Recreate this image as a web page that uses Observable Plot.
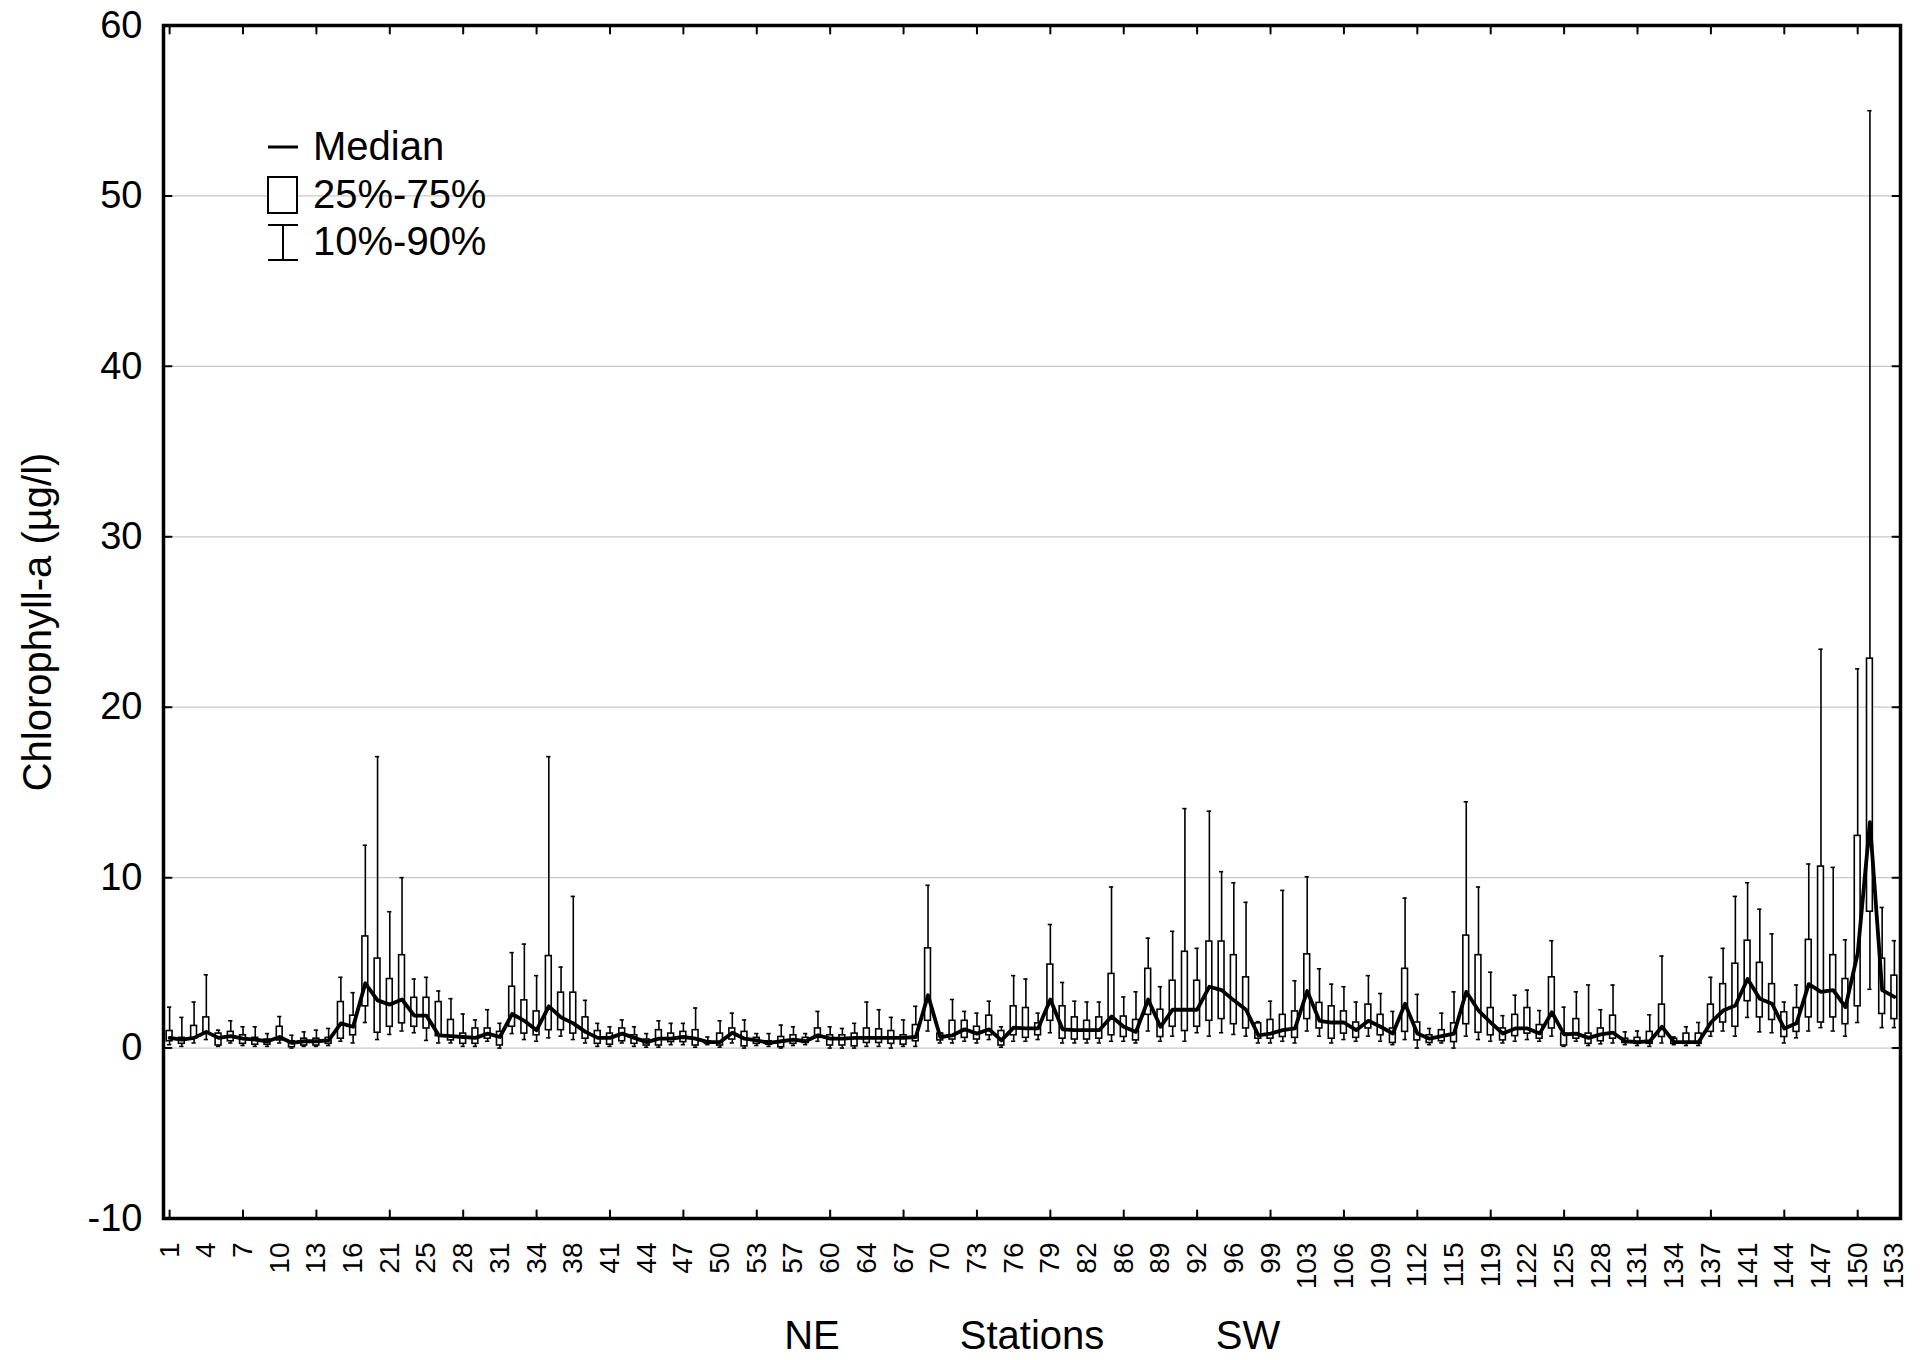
<!DOCTYPE html>
<html>
<head>
<meta charset="utf-8">
<script src="https://cdn.jsdelivr.net/npm/d3@7"></script>
<script src="https://cdn.jsdelivr.net/npm/@observablehq/plot@0.6"></script>
<style>
  html, body { margin: 0; padding: 0; background: #fff; }
  #chart svg { display: block; }
</style>
</head>
<body>
<div id="chart"></div>
<script>
// Sampling stations, ordered from north-east to south-west
const stations = [
  1, 2, 3, 4, 5, 6, 7, 8, 9, 10,
  11, 12, 13, 14, 15, 16, 17, 19, 21, 22,
  24, 25, 26, 27, 28, 29, 30, 31, 32, 33,
  34, 35, 37, 38, 39, 40, 41, 42, 43, 44,
  45, 46, 47, 48, 49, 50, 51, 52, 53, 54,
  56, 57, 58, 59, 60, 62, 63, 64, 65, 66,
  67, 68, 69, 70, 71, 72, 73, 74, 75, 76,
  77, 78, 79, 80, 81, 82, 84, 85, 86, 87,
  88, 89, 90, 91, 92, 94, 95, 96, 97, 98,
  99, 101, 102, 103, 104, 105, 106, 107, 108, 109,
  110, 111, 112, 113, 114, 115, 117, 118, 119, 120,
  121, 122, 123, 124, 125, 126, 127, 128, 129, 130,
  131, 132, 133, 134, 135, 136, 137, 139, 140, 141,
  142, 143, 144, 145, 146, 147, 148, 149, 150, 151,
  152, 153
].map(String);

// Chlorophyll-a percentiles per station (µg/l)
const p10 = [
  0.2, 0.1, 0.3, 0.5, 0.1, 0.3, 0.15, 0.1, 0.1, 0.3,
  0.0, 0.1, 0.1, 0.15, 0.4, 0.3, 1.5, 0.5, 0.8, 1.0,
  0.9, 0.45, 0.3, 0.3, 0.1, 0.1, 0.4, 0.0, 0.85, 0.5,
  0.4, 0.6, 0.7, 0.5, 0.3, 0.1, 0.1, 0.3, 0.1, 0.05,
  0.05, 0.2, 0.2, 0.05, 0.2, 0.05, 0.3, 0.0, 0.15, 0.1,
  0.0, 0.15, 0.2, 0.4, 0.0, 0.0, 0.0, 0.1, 0.1, 0.0,
  0.1, 0.1, 1.0, 0.3, 0.3, 0.4, 0.3, 0.5, 0.05, 0.4,
  0.4, 0.5, 0.9, 0.3, 0.3, 0.3, 0.3, 0.4, 0.4, 0.3,
  1.0, 0.4, 0.7, 0.4, 0.9, 0.7, 0.9, 0.8, 0.7, 0.3,
  0.3, 0.4, 0.3, 1.0, 0.7, 0.3, 0.5, 0.4, 0.7, 0.4,
  0.2, 0.5, 0.0, 0.2, 0.3, 0.0, 0.7, 0.5, 0.4, 0.3,
  0.4, 0.5, 0.4, 0.7, 0.1, 0.4, 0.15, 0.25, 0.3, 0.2,
  0.15, 0.1, 0.3, 0.2, 0.15, 0.15, 0.7, 1.0, 0.7, 1.8,
  0.95, 0.9, 0.3, 0.6, 1.0, 1.2, 1.0, 0.7, 1.5, 3.45,
  1.2, 1.2
];
const q1 = [
  0.4, 0.25, 0.55, 0.85, 0.15, 0.4, 0.25, 0.2, 0.2, 0.45,
  0.05, 0.15, 0.15, 0.25, 0.55, 0.75, 2.45, 0.9, 1.25, 1.45,
  1.25, 1.15, 0.7, 0.45, 0.25, 0.25, 0.55, 0.15, 1.25, 0.85,
  0.75, 1.05, 1.05, 0.85, 0.55, 0.25, 0.2, 0.4, 0.25, 0.15,
  0.15, 0.35, 0.35, 0.15, 0.25, 0.15, 0.5, 0.1, 0.25, 0.2,
  0.05, 0.25, 0.3, 0.6, 0.15, 0.15, 0.1, 0.3, 0.3, 0.25,
  0.2, 0.4, 1.6, 0.45, 0.5, 0.6, 0.5, 0.75, 0.15, 0.75,
  0.6, 0.75, 1.6, 0.55, 0.5, 0.5, 0.55, 0.75, 0.65, 0.45,
  1.95, 0.65, 1.25, 1.0, 1.25, 1.6, 1.7, 1.4, 1.15, 0.55,
  0.55, 0.65, 0.6, 1.7, 1.15, 0.55, 0.85, 0.6, 1.15, 0.75,
  0.3, 0.95, 0.45, 0.3, 0.4, 0.35, 1.4, 0.9, 0.75, 0.45,
  0.7, 0.85, 0.55, 1.15, 0.15, 0.55, 0.25, 0.4, 0.55, 0.3,
  0.25, 0.25, 0.65, 0.25, 0.25, 0.25, 0.95, 1.5, 1.25, 2.75,
  1.8, 1.65, 0.65, 0.95, 1.8, 1.5, 1.8, 1.4, 2.45, 8.0,
  2.0, 1.7
];
const median = [
  0.6, 0.5, 0.6, 0.95, 0.6, 0.7, 0.55, 0.5, 0.4, 0.65,
  0.3, 0.4, 0.4, 0.45, 1.45, 1.25, 3.8, 2.8, 2.55, 2.85,
  1.9, 1.9, 0.75, 0.7, 0.65, 0.6, 0.85, 0.65, 2.0, 1.6,
  1.05, 2.45, 1.8, 1.45, 0.95, 0.6, 0.6, 0.85, 0.6, 0.35,
  0.55, 0.55, 0.65, 0.55, 0.35, 0.35, 0.9, 0.55, 0.45, 0.3,
  0.4, 0.5, 0.4, 0.75, 0.55, 0.55, 0.6, 0.6, 0.6, 0.6,
  0.6, 0.65, 3.1, 0.65, 0.75, 1.1, 0.85, 1.1, 0.45, 1.2,
  1.15, 1.15, 2.85, 1.1, 1.05, 1.05, 1.05, 1.85, 1.25, 0.95,
  2.85, 1.25, 2.25, 2.25, 2.25, 3.6, 3.4, 2.8, 2.25, 0.75,
  0.85, 1.05, 1.15, 3.35, 1.6, 1.5, 1.5, 1.05, 1.6, 1.25,
  0.85, 2.6, 0.85, 0.55, 0.7, 0.85, 3.3, 2.2, 1.5, 0.85,
  1.15, 1.15, 0.85, 2.1, 0.8, 0.85, 0.6, 0.8, 0.9, 0.4,
  0.35, 0.4, 1.25, 0.35, 0.35, 0.35, 1.5, 2.2, 2.5, 4.05,
  2.9, 2.6, 1.15, 1.45, 3.75, 3.3, 3.4, 2.4, 5.55, 13.25,
  3.4, 3.0
];
const q3 = [
  1.0, 0.6, 1.3, 1.8, 0.85, 0.95, 0.75, 0.6, 0.5, 1.25,
  0.4, 0.55, 0.55, 0.6, 2.7, 1.9, 6.55, 5.25, 4.05, 5.45,
  2.95, 2.95, 2.7, 1.65, 0.85, 1.15, 1.15, 0.95, 3.6, 2.8,
  2.15, 5.4, 3.25, 3.25, 1.8, 1.0, 0.85, 1.15, 0.75, 0.5,
  1.05, 0.85, 0.95, 1.05, 0.4, 0.85, 1.15, 0.95, 0.6, 0.4,
  0.65, 0.75, 0.6, 1.15, 0.75, 0.75, 0.85, 1.15, 1.1, 1.0,
  0.75, 1.35, 5.85, 0.85, 1.6, 1.6, 1.25, 1.9, 1.0, 2.45,
  2.35, 1.45, 4.9, 2.45, 1.8, 1.6, 1.8, 4.35, 1.85, 1.65,
  4.65, 2.25, 3.95, 5.65, 3.95, 6.25, 6.25, 5.45, 4.15, 1.45,
  1.65, 1.95, 2.15, 5.5, 2.65, 2.45, 2.15, 1.5, 2.55, 1.95,
  1.15, 4.65, 1.5, 0.75, 1.05, 1.45, 6.6, 5.45, 2.35, 1.15,
  1.95, 2.35, 1.35, 4.15, 0.85, 1.7, 0.85, 1.15, 1.9, 0.55,
  0.6, 0.95, 2.55, 0.55, 0.85, 0.85, 2.55, 3.75, 4.95, 6.3,
  5.0, 3.75, 2.1, 2.35, 6.35, 10.65, 5.45, 4.05, 12.45, 22.85,
  5.25, 4.25
];
const p90 = [
  2.4, 1.8, 2.7, 4.3, 1.05, 1.6, 1.25, 1.25, 0.85, 1.85,
  0.75, 0.95, 1.05, 1.15, 4.15, 3.25, 11.9, 17.1, 8.0, 10.0,
  4.05, 4.15, 3.35, 2.9, 2.0, 1.65, 2.25, 1.45, 5.6, 6.1,
  4.25, 17.1, 4.75, 8.9, 2.8, 1.45, 1.25, 1.65, 1.25, 0.85,
  1.6, 1.45, 1.45, 2.35, 0.65, 1.6, 2.05, 1.65, 0.85, 0.85,
  1.35, 1.25, 0.85, 2.15, 1.25, 1.15, 1.45, 2.7, 2.25, 1.8,
  1.65, 2.45, 9.55, 0.9, 2.85, 2.15, 2.05, 2.75, 1.25, 4.25,
  4.05, 2.05, 7.25, 3.85, 2.75, 2.7, 2.7, 9.45, 3.0, 3.3,
  6.45, 3.6, 6.85, 14.05, 5.85, 13.9, 10.35, 9.7, 8.55, 1.55,
  2.75, 9.25, 3.95, 10.05, 4.65, 3.75, 3.6, 2.7, 4.25, 3.2,
  2.15, 8.8, 3.15, 1.15, 2.05, 3.3, 14.45, 9.45, 4.45, 1.9,
  3.1, 3.4, 2.2, 6.3, 2.4, 3.3, 3.7, 2.25, 3.7, 0.95,
  1.0, 1.95, 5.4, 0.65, 1.25, 1.5, 4.15, 5.85, 8.9, 9.7,
  8.15, 6.7, 2.7, 3.7, 10.8, 23.4, 10.6, 6.35, 22.25, 55.0,
  8.25, 6.3
];

const yTicks = [-10, 0, 10, 20, 30, 40, 50, 60];
const gridValues = [0, 10, 20, 30, 40, 50];
const xLabelTicks = stations.filter((d, i) => i % 3 === 0);
const xMarkTicks = stations.filter((d, i) => i % 6 === 0);
const yTitle = "Chlorophyll-a (µg/l)";
const xTitles = ["NE", "Stations", "SW"];
const legendItems = ["Median", "25%-75%", "10%-90%"];

const rows = stations.map((s, i) => ({
  station: s, p10: p10[i], q1: q1[i], median: median[i], q3: q3[i], p90: p90[i]
}));

const font = "'Liberation Sans', Arial, Helvetica, sans-serif";
const blank = () => "";

// straight stroke used for the inward-pointing tick marks
const tickShape = { draw(context, l) { context.moveTo(0, 0); context.lineTo(0, -l); } };
const tickStyle = { length: 8, anchor: "start", shape: tickShape, stroke: "#000", strokeWidth: 2 };

const chart = Plot.plot({
  width: 1926,
  height: 1360,
  marginLeft: 163,
  marginRight: 26,
  marginTop: 25,
  marginBottom: 142,
  style: { fontFamily: font, background: "#fff", color: "#000", overflow: "visible" },
  x: { type: "band", domain: stations, padding: 0 },
  y: { domain: [-10, 60] },
  marks: [
    Plot.gridY(gridValues, { stroke: "#c8c8c8", strokeOpacity: 1, strokeWidth: 1.2 }),
    // 10%-90% whiskers with caps
    Plot.ruleX(rows, { x: "station", y1: "p10", y2: "p90", stroke: "#000", strokeWidth: 1.6 }),
    Plot.tickY(rows, { x: "station", y: "p90", stroke: "#000", strokeWidth: 1.6, insetLeft: 4, insetRight: 4 }),
    Plot.tickY(rows, { x: "station", y: "p10", stroke: "#000", strokeWidth: 1.6, insetLeft: 4, insetRight: 4 }),
    // 25%-75% boxes
    Plot.barY(rows, { x: "station", y1: "q1", y2: "q3", fill: "#fff", stroke: "#000", strokeWidth: 1.6, insetLeft: 3.2, insetRight: 3.2 }),
    // median line
    Plot.line(rows, { x: "station", y: "median", stroke: "#000", strokeWidth: 3.8, strokeLinejoin: "round" }),
    Plot.frame({ stroke: "#000", strokeWidth: 3.5 }),
    // inward tick marks on all four sides
    Plot.vector(yTicks, { y: d => d, frameAnchor: "left", rotate: 90, ...tickStyle }),
    Plot.vector(yTicks, { y: d => d, frameAnchor: "right", rotate: -90, ...tickStyle }),
    Plot.vector(xMarkTicks, { x: d => d, frameAnchor: "bottom", rotate: 0, ...tickStyle }),
    Plot.vector(xMarkTicks, { x: d => d, frameAnchor: "top", rotate: 180, ...tickStyle }),
    // tick labels
    Plot.axisY({ ticks: yTicks, anchor: "left", tickSize: 0, tickPadding: 21, fontSize: 38, tickFormat: d => String(d), label: null }),
    Plot.axisX({ ticks: xLabelTicks, anchor: "bottom", tickSize: 0, tickPadding: 24, tickRotate: -90, fontSize: 28, label: null }),
    // axis titles
    Plot.text([yTitle], { text: d => d, frameAnchor: "left", rotate: -90, dx: -125, fontSize: 40, textAnchor: "middle", lineAnchor: "middle" }),
    Plot.text([xTitles[0]], { text: d => d, frameAnchor: "bottom", dx: -220, dy: 130, fontSize: 40, lineAnchor: "bottom" }),
    Plot.text([xTitles[1]], { text: d => d, frameAnchor: "bottom", dx: 0, dy: 130, fontSize: 40, lineAnchor: "bottom" }),
    Plot.text([xTitles[2]], { text: d => d, frameAnchor: "bottom", dx: 216, dy: 130, fontSize: 40, lineAnchor: "bottom" })
  ]
});

// Legend in the upper-left corner of the plot area
const svg = d3.select(chart);
const lg = svg.append("g").attr("stroke", "#000").attr("fill", "none");
lg.append("line").attr("x1", 268).attr("x2", 298).attr("y1", 147).attr("y2", 147).attr("stroke-width", 3);
lg.append("rect").attr("x", 268).attr("y", 177).attr("width", 29).attr("height", 36).attr("fill", "#fff").attr("stroke-width", 2);
lg.append("line").attr("x1", 283).attr("x2", 283).attr("y1", 225).attr("y2", 260).attr("stroke-width", 2);
lg.append("line").attr("x1", 268).attr("x2", 298).attr("y1", 225).attr("y2", 225).attr("stroke-width", 2);
lg.append("line").attr("x1", 268).attr("x2", 298).attr("y1", 260).attr("y2", 260).attr("stroke-width", 2);
const lt = svg.append("g")
  .attr("font-family", font)
  .attr("font-size", 40)
  .attr("fill", "#000")
  .attr("text-anchor", "start");
legendItems.forEach((t, i) => {
  lt.append("text").attr("x", 313).attr("y", 160 + i * 47.5).attr("text-anchor", "start").text(t);
});

document.getElementById("chart").appendChild(chart);
</script>
</body>
</html>
